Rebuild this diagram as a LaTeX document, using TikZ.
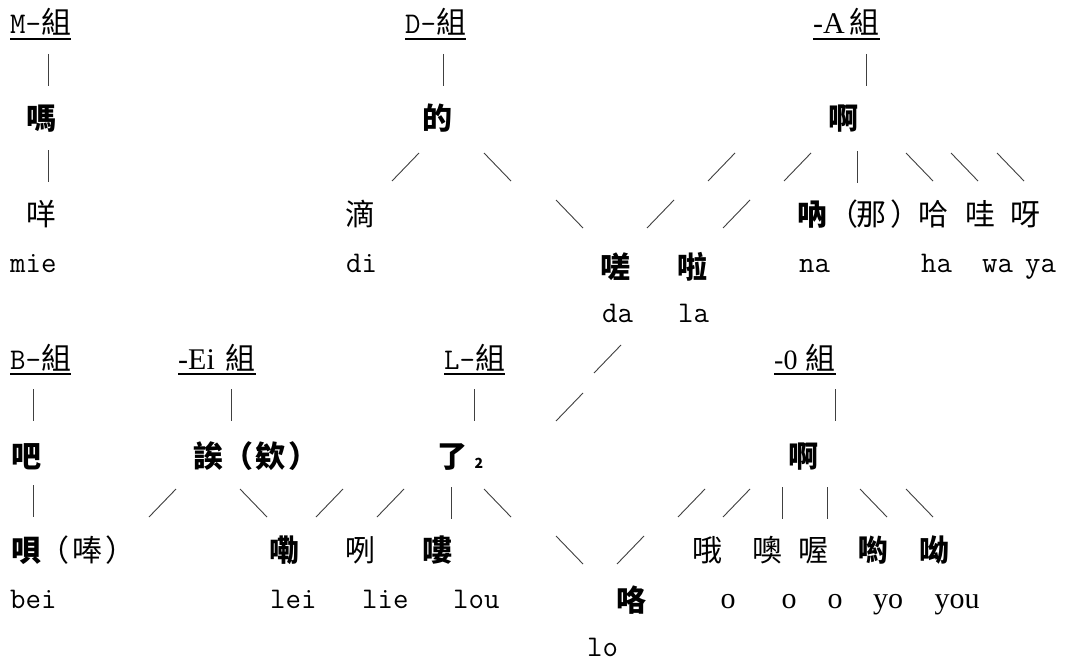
\documentclass[tikz,border=0pt]{standalone}
\usepackage{fontspec}
\newfontfamily\cjk{Noto Sans CJK TC}
\newfontfamily\tms{Liberation Serif}
\newcommand{\zifs}{\fontsize{30}{32}\selectfont}
\tikzset{
  zi/.style={font=\cjk\zifs, inner sep=0pt, text height=25pt, text depth=2pt},
  zib/.style={font=\cjk\bfseries\zifs, inner sep=0pt, text height=25pt, text depth=2pt},
  py/.style={font=\ttfamily\zifs, inner sep=0pt, anchor=base west},
  pyt/.style={font=\tms\zifs, inner sep=0pt, anchor=base},
  grp/.style={inner sep=0pt, anchor=base west},
  stroke/.style={line width=0.9pt, black!75},
  uline/.style={line width=1.6pt}
}
\begin{document}
\begin{tikzpicture}[x=1pt,y=-1pt]
  \fill[white] (0,0) rectangle (1091,666);
  \useasboundingbox (0,0) rectangle (1091,666);
  % upper groups
  \node[grp] (mg) at (10,34) {\ttfamily\zifs M-{\cjk 組}};
  \node[grp] (dg) at (405,34) {\ttfamily\zifs D-{\cjk 組}};
  \node[grp] (ag) at (813,34) {\tms\zifs -A\hspace{5pt}{\cjk 組}};
  \node[zib] (ma) at (41,118) {嗎};
  \node[zib] (de) at (437,118) {的};
  \node[zib] (aa) at (843,118) {啊};
  \node[zi] (mie1) at (41,214) {咩};
  \node[zi] (di1) at (360,214) {滴};
  \node[zib] (na1) at (812,214) {吶};
  \node[zi] (lp1) at (843,214) {（};
  \node[zi] (na2) at (871,214) {那};
  \node[zi] (rp1) at (905,214) {）};
  \node[zi] (ha1) at (933,214) {哈};
  \node[zi] (wa1) at (980,214) {哇};
  \node[zi] (ya1) at (1025,214) {呀};
  \node[zib] (da1) at (615,267) {嗟};
  \node[zib] (la1) at (692,267) {啦};
  \node[py] (mie) at (10,272) {mie};
  \node[py] (di) at (346,272) {di};
  \node[py] (na) at (799,272) {na};
  \node[py] (ha) at (921,272) {ha};
  \node[py] (wa) at (982,272) {wa};
  \node[py] (ya) at (1025,272) {ya};
  \node[py] (da) at (602,322) {da};
  \node[py] (la) at (678,322) {la};

  % lower groups
  \node[grp] (bg) at (10,369) {\ttfamily\zifs B-{\cjk 組}};
  \node[grp] (eg) at (178,369) {\tms\zifs -Ei\hspace{11pt}{\cjk 組}};
  \node[grp] (lg) at (444,369) {\ttfamily\zifs L-{\cjk 組}};
  \node[grp] (og) at (774,369) {\tms\fontsize{28}{30}\selectfont -0\hspace{8pt}{\cjk\zifs 組}};
  \node[zib] (ba) at (27,456) {吧};
  \node[zib] (ei) at (208,456) {誒};
  \node[zib] (lp2) at (238,456) {（};
  \node[zib] (ei2) at (270,456) {欸};
  \node[zib] (rp2) at (303,456) {）};
  \node[zib] (le) at (452,456) {了};
  \node[inner sep=0pt, font=\cjk\bfseries\fontsize{14}{14}\selectfont] (le2) at (479,463) {2};
  \node[zib] (oa) at (803,456) {啊};
  \node[zib] (bei1) at (26,550) {唄};
  \node[zi] (lp3) at (54,550) {（};
  \node[zi] (bei2) at (87,550) {唪};
  \node[zi] (rp3) at (120,550) {）};
  \node[zib] (lei1) at (284,550) {嘞};
  \node[zi] (lie1) at (360,550) {咧};
  \node[zib] (lou1) at (437,550) {嘍};
  \node[zi] (o1) at (707,550) {哦};
  \node[zi] (o2) at (767,550) {噢};
  \node[zi] (o3) at (813,550) {喔};
  \node[zib] (yo1) at (873,550) {喲};
  \node[zib] (you1) at (934,550) {呦};
  \node[zib] (lo1) at (631,600) {咯};
  \node[py] (bei) at (10,608) {bei};
  \node[py] (lei) at (270,608) {lei};
  \node[py] (lie) at (362,608) {lie};
  \node[py] (lou) at (453,608) {lou};
  \node[py] (lo) at (587,656) {lo};
  \node[pyt] (oo1) at (728,608) {o};
  \node[pyt] (oo2) at (789,608) {o};
  \node[pyt] (oo3) at (835,608) {o};
  \node[pyt] (yo) at (888,608) {yo};
  \node[pyt] (you) at (957,608) {you};

  % underlines
  \foreach \g in {mg,dg,ag}
    \draw[uline] (\g.base west |- 0,39) -- (\g.base east |- 0,39);
  \foreach \g in {bg,eg,lg,og}
    \draw[uline] (\g.base west |- 0,374) -- (\g.base east |- 0,374);

  % strokes: | from top, / from bottom left, \ from top left
  \foreach \x/\y in {48.5/54, 443/54, 866/54, 48.5/150, 857/151,
                     33/389, 231/389, 474/389, 835/389, 33/485,
                     451/487, 782/487, 827/487}
    \draw[stroke] (\x,\y) -- ++(0,32);
  \foreach \x/\y in {392/181, 708/181, 784/181, 647/228, 723/228,
                     594/373, 556/421, 149/517, 316/517, 377/517,
                     678/517, 723/517, 617/564}
    \draw[stroke] (\x,\y) -- ++(27,-28);
  \foreach \x/\y in {484/153, 906/153, 951/153, 997/153, 556/200,
                     240/489, 484/489, 860/489, 906/489, 556/536}
    \draw[stroke] (\x,\y) -- ++(27,28);
\end{tikzpicture}
\end{document}
